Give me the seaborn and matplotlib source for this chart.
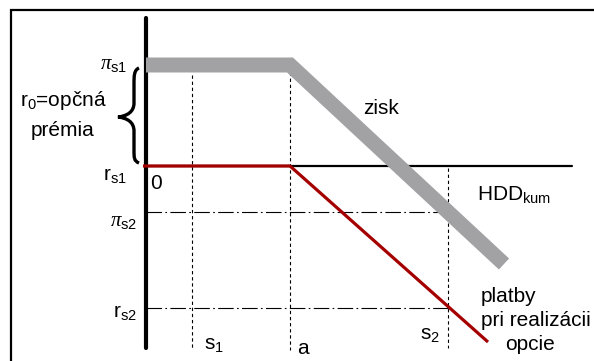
import matplotlib
matplotlib.use("Agg")
import matplotlib.pyplot as plt
import seaborn as sns
import pandas as pd
from matplotlib.path import Path
from matplotlib.patches import PathPatch

sns.set_style("white")
plt.rcParams['font.family'] = ['Liberation Sans', 'DejaVu Sans']
plt.rcParams['mathtext.fontset'] = 'custom'
plt.rcParams['mathtext.rm'] = 'Liberation Sans'
plt.rcParams['mathtext.it'] = 'Liberation Serif:italic'
plt.rcParams['mathtext.sf'] = 'Liberation Sans'

# ---- data (HDD axis vs payoff) ----
s1 = 46
a_strike = 144
s2 = 302
pi_s1 = 101
r_s1 = 0
pi_s2 = -46
r_s2 = -142

zisk_x = [0, a_strike, 358]
zisk_y = [pi_s1, pi_s1, -98]
platby_x = [-3, a_strike, 342]
platby_y = [r_s1, r_s1, -176]

fig = plt.figure(figsize=(5.94, 3.61), dpi=100)
ax = fig.add_axes([0, 0, 1, 1])
ax.set_xlim(-146, 448)
ax.set_ylim(-195, 166)
ax.axis('off')

# frame (left + top)
ax.plot([-135, -135, 448], [-200, 156, 156], color='black', lw=1.6, solid_joinstyle='miter', clip_on=False)

# helper lines
dash = (0, (3, 2.5))
ax.plot([s1, s1], [91, -184], color='black', lw=0.8, linestyle=dash)
ax.plot([a_strike, a_strike], [94, -184], color='black', lw=0.8, linestyle=dash)
ax.plot([s2, s2], [-2, -182], color='black', lw=0.8, linestyle=dash)
dashdot = (0, (14, 3, 1.5, 3))
ax.plot([0, 292], [pi_s2, pi_s2], color='black', lw=0.8, linestyle=dashdot)
ax.plot([0, s2], [r_s2, r_s2], color='black', lw=0.8, linestyle=dashdot)

# axes
ax.plot([0, 426], [0, 0], color='black', lw=1.6)
ax.plot([0, 0], [148, -182], color='black', lw=3.0, solid_capstyle='round')

# series
df_z = pd.DataFrame({'x': zisk_x, 'y': zisk_y})
df_p = pd.DataFrame({'x': platby_x, 'y': platby_y})
sns.lineplot(data=df_z, x='x', y='y', ax=ax, sort=False, color='#a2a2a5', lw=10.8,
             solid_capstyle='butt', solid_joinstyle='miter')
sns.lineplot(data=df_p, x='x', y='y', ax=ax, sort=False, color='#a50000', lw=2.3,
             solid_capstyle='butt', solid_joinstyle='miter')

# brace
def P(px, py):
    return (px - 146, 166 - py)
verts = [P(139, 68), P(134, 70), P(134, 76), P(134, 84),
         P(134, 103),
         P(134, 112), P(127, 116), P(118, 117),
         P(127, 118), P(134, 122), P(134, 131),
         P(134, 150),
         P(134, 158), P(134, 161), P(139, 163)]
codes = [Path.MOVETO, Path.CURVE4, Path.CURVE4, Path.CURVE4,
         Path.LINETO,
         Path.CURVE4, Path.CURVE4, Path.CURVE4,
         Path.CURVE4, Path.CURVE4, Path.CURVE4,
         Path.LINETO,
         Path.CURVE4, Path.CURVE4, Path.CURVE4]
ax.add_patch(PathPatch(Path(verts, codes), fill=False, lw=2.4, color='black'))

fs = 15
def T(x, y, s, ha='left', va='center', **kw):
    ax.text(x, y, s, ha=ha, va=va, fontsize=fs, color='black', **kw)

T(-19, 101, r'$\pi_{\mathrm{s1}}$', ha='right')
T(-83, 66, r'$\mathrm{r}_{\mathrm{0}}$=opčná', ha='center')
T(-83, 36, 'prémia', ha='center')
T(-19, -9, r'$\mathrm{r}_{\mathrm{s1}}$', ha='right')
T(4, -17, '0')
T(-9, -55, r'$\pi_{\mathrm{s2}}$', ha='right')
T(-9, -146, r'$\mathrm{r}_{\mathrm{s2}}$', ha='right')
T(58, -178, r'$\mathrm{s}_{\mathrm{1}}$')
T(151, -183, 'a')
T(274, -169, r'$\mathrm{s}_{\mathrm{2}}$')
T(217, 58, 'zisk')
T(331, -28, r'$\mathrm{HDD}_{\mathrm{kum}}$')
T(335, -130, 'platby')
T(335, -154, 'pri realizácii')
T(359, -179, 'opcie')

fig.savefig('out.png', dpi=100)
